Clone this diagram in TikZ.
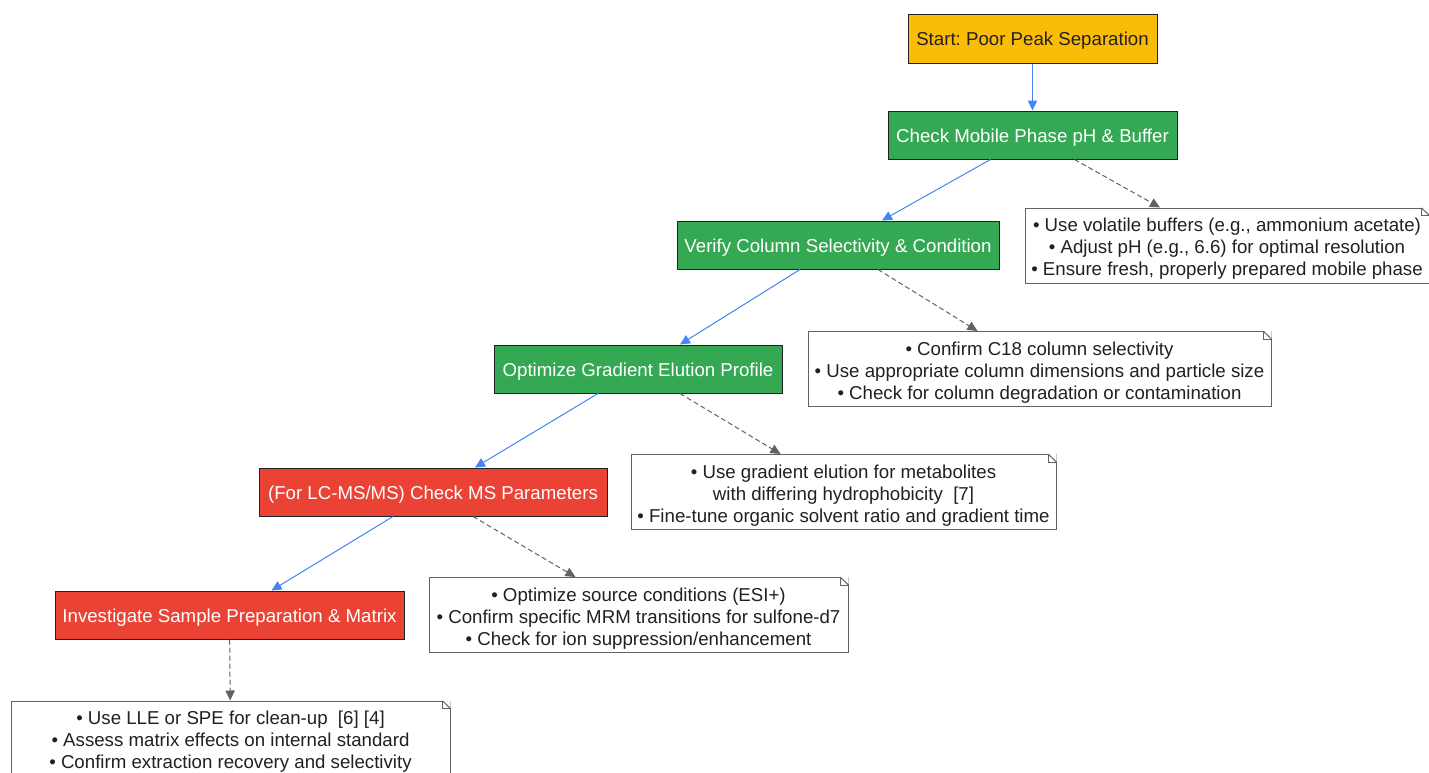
\documentclass[tikz,border=0pt]{standalone}
\usepackage{fontspec}
\setmainfont{Liberation Sans}
\usetikzlibrary{arrows.meta,calc}
\frenchspacing

\definecolor{startyellow}{HTML}{FBBC05}
\definecolor{stepgreen}{HTML}{34A853}
\definecolor{stepred}{HTML}{EA4335}
\definecolor{flowblue}{HTML}{4285F4}
\definecolor{notegray}{HTML}{5F6368}
\definecolor{inkdark}{HTML}{202124}

\tikzset{
  stepbox/.style={draw=inkdark, line width=0.75pt, text=white, minimum height=48*0.75pt,
    font=\fontsize{14}{16.5}\selectfont, inner sep=0pt, text height=12pt, text depth=1pt},
  tipnote/.style={draw=notegray, line width=0.75pt, fill=white, text=inkdark, align=center,
    minimum height=75*0.75pt, font=\fontsize{14}{16.5}\selectfont, inner sep=0pt,
    text height=45pt, text depth=0pt},
  flow/.style={draw=flowblue, line width=0.75pt, -{Triangle[length=7.5pt,width=7pt]}},
  hint/.style={draw=notegray, line width=0.75pt, dash pattern={on 3.75pt off 2.25pt},
    -{Triangle[length=7.5pt,width=7pt]}},
}

\begin{document}
\begin{tikzpicture}[x=0.75pt,y=-0.75pt]
    \useasboundingbox (0,0) rectangle (1429,772);

    % main steps
    \node[stepbox, fill=startyellow, text=inkdark, minimum width=249*0.75pt, minimum height=49*0.75pt]
      (start) at (1032.5,38.5) {Start: Poor Peak Separation};
    \node[stepbox, fill=stepgreen, minimum width=289*0.75pt] (buffer) at (1032.5,135) {Check Mobile Phase pH \& Buffer};
    \node[stepbox, fill=stepgreen, minimum width=322*0.75pt] (column) at (838,245) {Verify Column Selectivity \& Condition};
    \node[stepbox, fill=stepgreen, minimum width=288*0.75pt] (gradient) at (638,369) {Optimize Gradient Elution Profile};
    \node[stepbox, fill=stepred, minimum width=348*0.75pt] (msparam) at (433,492) {(For LC-MS/MS) Check MS Parameters};
    \node[stepbox, fill=stepred, minimum width=349*0.75pt] (sample) at (229.5,615) {Investigate Sample Preparation \& Matrix};

    % notes
    \node[tipnote, minimum width=404*0.75pt] (bufnote) at (1227,245.5)
      {• Use volatile buffers (e.g., ammonium acetate)\\• Adjust pH (e.g., 6.6) for optimal resolution\\• Ensure fresh, properly prepared mobile phase};
    \node[tipnote, minimum width=463*0.75pt] (colnote) at (1039.5,369)
      {• Confirm C18 column selectivity\\• Use appropriate column dimensions and particle size\\• Check for column degradation or contamination};
    \node[tipnote, minimum width=425*0.75pt] (gradnote) at (843.5,492)
      {• Use gradient elution for metabolites\\with differing hydrophobicity~~[7]\\• Fine-tune organic solvent ratio and gradient time};
    \node[tipnote, minimum width=419*0.75pt] (msnote) at (638.5,615)
      {• Optimize source conditions (ESI+)\\• Confirm specific MRM transitions for sulfone-d7\\• Check for ion suppression/enhancement};
    \node[tipnote, minimum width=439*0.75pt] (samplenote) at (230.5,738.5)
      {• Use LLE or SPE for clean-up~~[6] [4]\\• Assess matrix effects on internal standard\\• Confirm extraction recovery and selectivity};

    % folded corners
    \foreach \n in {bufnote,colnote,gradnote,msnote,samplenote}{
      \fill[white] ($(\n.north east)+(-8,0)$) -- (\n.north east) -- ($(\n.north east)+(0,8)$) -- cycle;
      \draw[notegray, line width=0.75pt] ($(\n.north east)+(-8,0.4)$) -- ($(\n.north east)+(0,8)$);
      \draw[notegray, line width=0.5pt] ($(\n.north east)+(-8,0)$) -- ($(\n.north east)+(-8,8)$) -- ($(\n.north east)+(0,8)$);
    }

    % main flow
    \draw[flow] (start) -- (buffer);
    \draw[flow] ($(buffer.south)+(-42,0)$) -- ($(column.north)+(44,0)$);
    \draw[flow] ($(column.south)+(-38,0)$) -- ($(gradient.north)+(42,0)$);
    \draw[flow] ($(gradient.south)+(-40,0)$) -- ($(msparam.north)+(42,0)$);
    \draw[flow] ($(msparam.south)+(-40,0)$) -- ($(sample.north)+(42,0)$);

    % hints
    \draw[hint] ($(buffer.south)+(42,0)$) -- ($(bufnote.north)+(-67,0)$);
    \draw[hint] ($(column.south)+(40,0)$) -- ($(colnote.north)+(-62,0)$);
    \draw[hint] ($(gradient.south)+(42,0)$) -- ($(gradnote.north)+(-63,0)$);
    \draw[hint] ($(msparam.south)+(40,0)$) -- ($(msnote.north)+(-63,0)$);
    \draw[hint] (sample) -- (samplenote);
  \end{tikzpicture}
\end{document}
